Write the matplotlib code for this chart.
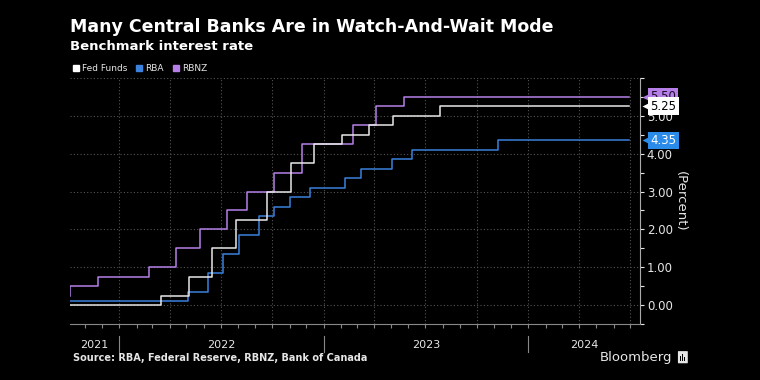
import numpy as np
import pandas as pd
import matplotlib
matplotlib.use('Agg')
import matplotlib.pyplot as plt
import matplotlib.dates as mdates
from matplotlib.patches import Patch, FancyBboxPatch, Rectangle
from matplotlib.transforms import blended_transform_factory

# ---- data (policy rate decision dates and levels) ----
start = '2021-10-05'
end = '2024-06-28'

fed_dates = [start, '2022-03-17', '2022-05-05', '2022-06-16', '2022-07-28', '2022-09-22',
             '2022-11-03', '2022-12-15', '2023-02-02', '2023-03-23', '2023-05-04',
             '2023-07-27', end]
fed_rates = [0.00, 0.25, 0.75, 1.50, 2.25, 3.00, 3.75, 4.25, 4.50, 4.75, 5.00, 5.25, 5.25]

rba_dates = [start, '2022-05-04', '2022-06-08', '2022-07-06', '2022-08-03', '2022-09-07',
             '2022-10-05', '2022-11-02', '2022-12-07', '2023-02-08', '2023-03-08',
             '2023-05-03', '2023-06-07', '2023-11-08', end]
rba_rates = [0.10, 0.35, 0.85, 1.35, 1.85, 2.35, 2.60, 2.85, 3.10, 3.35, 3.60,
             3.85, 4.10, 4.35, 4.35]

rbnz_dates = [start, '2021-10-06', '2021-11-24', '2022-02-23', '2022-04-13', '2022-05-25',
              '2022-07-13', '2022-08-17', '2022-10-05', '2022-11-23', '2023-02-22',
              '2023-04-05', '2023-05-24', end]
rbnz_rates = [0.25, 0.50, 0.75, 1.00, 1.50, 2.00, 2.50, 3.00, 3.50, 4.25, 4.75,
              5.25, 5.50, 5.50]

year_labels = ['2021', '2022', '2023', '2024']

# colours
bg = '#000000'
c_fed = '#e8e8e8'
c_rba = '#3a82dc'
c_rbnz = '#b67fe8'
c_txt = '#e6e6e6'
c_grid = '#555555'

fig = plt.figure(figsize=(7.6, 3.8), dpi=100, facecolor=bg)
ax = fig.add_axes([0.092, 0.147, 0.750, 0.648], facecolor=bg)

ax.plot(pd.to_datetime(fed_dates), fed_rates, drawstyle='steps-post', color=c_fed, lw=1.1, zorder=3)
ax.plot(pd.to_datetime(rba_dates), rba_rates, drawstyle='steps-post', color=c_rba, lw=1.1, zorder=2)
ax.plot(pd.to_datetime(rbnz_dates), rbnz_rates, drawstyle='steps-post', color=c_rbnz, lw=1.1, zorder=1)

x0 = pd.Timestamp(start)
x1 = pd.Timestamp('2024-07-18')
ax.set_xlim(x0, x1)
ax.set_ylim(-0.5, 6.0)

# y axis on the right
ax.yaxis.tick_right()
ax.yaxis.set_label_position('right')
ax.set_yticks([0, 1, 2, 3, 4, 5, 6])
ax.set_yticklabels(['0.00', '1.00', '2.00', '3.00', '4.00', '5.00', ''])
ax.set_yticks(np.arange(-0.5, 6.0, 1.0), minor=True)
ax.tick_params(axis='y', which='both', colors=c_txt, labelsize=8.5, length=3, width=0.8, pad=2)
ax.set_ylabel('(Percent)', color=c_txt, fontsize=9.5, rotation=270, labelpad=10)

# x axis: quarterly grid, monthly ticks, custom year labels
ax.xaxis.set_major_locator(mdates.MonthLocator(bymonth=[1, 4, 7, 10]))
ax.xaxis.set_minor_locator(mdates.MonthLocator())
ax.xaxis.set_major_formatter(plt.NullFormatter())
ax.tick_params(axis='x', which='both', colors='#888888', length=3, width=0.8)

ax.grid(True, which='major', color=c_grid, linestyle=(0, (1, 2)), linewidth=0.8)
ax.set_axisbelow(True)

for s in ['left', 'top']:
    ax.spines[s].set_visible(False)
ax.spines['right'].set_color('#aaaaaa')
ax.spines['bottom'].set_color('#888888')

trans = blended_transform_factory(ax.transData, ax.transAxes)
bounds = [x0, pd.Timestamp('2022-01-01'), pd.Timestamp('2023-01-01'),
          pd.Timestamp('2024-01-01'), x1]
for i, lab in enumerate(year_labels):
    a, b = bounds[i], bounds[i + 1]
    mid = a + (b - a) / 2
    ax.text(mid, -0.085, lab, transform=trans, ha='center', va='center',
            color=c_txt, fontsize=8)
for b in bounds[1:-1]:
    ax.plot([b, b], [-0.05, -0.115], transform=trans, color='#888888', lw=0.8, clip_on=False)

# last-value labels on the right
ytrans = blended_transform_factory(ax.transAxes, ax.transData)
labels = [(5.50, '5.50', c_rbnz, '#1a0a2a'), (5.25, '5.25', '#ffffff', '#000000'),
          (4.35, '4.35', '#2a8be8', '#ffffff')]
for val, txt, fc, tc in labels:
    ax.text(1.018, val, txt, transform=ytrans, ha='left', va='center', fontsize=8.5,
            color=tc, zorder=10, clip_on=False,
            bbox=dict(boxstyle='square,pad=0.2', fc=fc, ec='none'))
    ax.plot([1.01], [val], marker='<', ms=6, color=fc, transform=ytrans,
            clip_on=False, zorder=9, mec='none')

# titles
fig.text(0.092, 0.93, 'Many Central Banks Are in Watch-And-Wait Mode', color='white',
         fontsize=12.5, fontweight='bold', ha='left', va='center')
fig.text(0.092, 0.878, 'Benchmark interest rate', color='white',
         fontsize=9.5, fontweight='bold', ha='left', va='center')

handles = [Patch(color='white', label='Fed Funds'), Patch(color=c_rba, label='RBA'),
           Patch(color=c_rbnz, label='RBNZ')]
leg = fig.legend(handles=handles, loc='center left', bbox_to_anchor=(0.085, 0.82), ncol=3,
                 frameon=False, fontsize=6.5, handlelength=0.7, handleheight=0.7,
                 handletextpad=0.3, columnspacing=1.0, labelcolor=c_txt)

fig.text(0.096, 0.058, 'Source: RBA, Federal Reserve, RBNZ, Bank of Canada', color=c_txt,
         fontsize=7, fontweight='bold', ha='left', va='center')

fig.text(0.885, 0.06, 'Bloomberg', color=c_txt, fontsize=9.5, ha='right', va='center')
logo = FancyBboxPatch((0.893, 0.045), 0.011, 0.03, boxstyle='round,pad=0.001',
                      transform=fig.transFigure, fc=c_txt, ec='none')
fig.patches.append(logo)
for k, h in enumerate([0.012, 0.018, 0.01]):
    fig.patches.append(Rectangle((0.895 + k * 0.0025, 0.05), 0.0015, h,
                                 transform=fig.transFigure, fc=bg, ec='none'))

fig.savefig('out.png', dpi=100, facecolor=bg)
